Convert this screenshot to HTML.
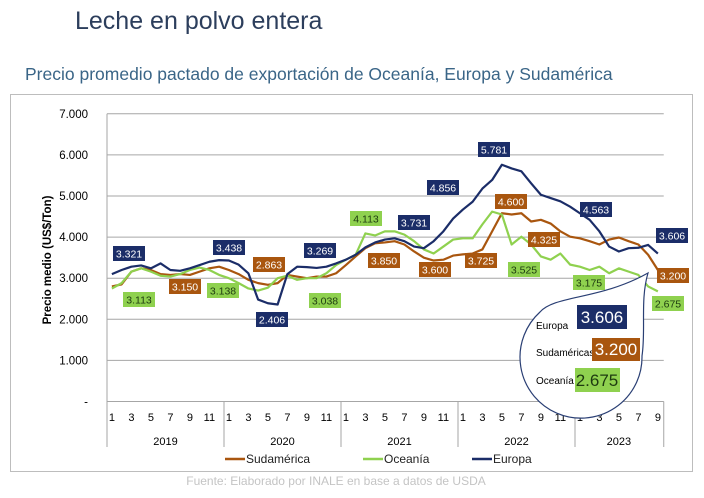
<!DOCTYPE html>
<html><head><meta charset="utf-8">
<style>
body{margin:0;background:#fff;width:704px;height:493px;overflow:hidden;font-family:"Liberation Sans",sans-serif;}
</style></head>
<body>
<svg id="chart" width="704" height="493" xmlns="http://www.w3.org/2000/svg" font-family="Liberation Sans, sans-serif">
<text x="75" y="29" font-size="25" fill="#2c3e5c">Leche en polvo entera</text>
<text x="25" y="80" font-size="17.5" fill="#3a6587">Precio promedio pactado de exportación de Oceanía, Europa y Sudamérica</text>
<rect x="10.5" y="94.5" width="682" height="377" fill="none" stroke="#bdbdbd"/>
<g id="grid"></g><g id="axes"></g><g id="series"></g><g id="labels"></g>
<text transform="translate(51,260) rotate(-90)" text-anchor="middle" font-size="11.5" font-weight="bold" fill="#000">Precio medio (US$/Ton)</text>
<g font-size="12" fill="#222">
 <line x1="225" y1="459" x2="245" y2="459" stroke="#a9560f" stroke-width="2.5"/><text x="246" y="463">Sudamérica</text>
 <line x1="363" y1="459" x2="383" y2="459" stroke="#8fd14f" stroke-width="2.5"/><text x="384" y="463">Oceanía</text>
 <line x1="472" y1="459" x2="492" y2="459" stroke="#1b2d68" stroke-width="2.5"/><text x="493" y="463">Europa</text>
</g>
<text x="336" y="485" text-anchor="middle" font-size="12" fill="#c4c4c4">Fuente: Elaborado por INALE en base a datos de USDA</text>
<g>
 <path d="M648,273 C640,300 646,330 642,356 A61,61 0 1 1 540,312 C555,295 600,300 648,273 Z" fill="#fff" stroke="#2a3f74" stroke-width="1.2"/>
 <text x="536" y="329" font-size="10" fill="#000">Europa</text>
 <rect x="577" y="305" width="50" height="24" fill="#1b2d68"/><text x="602" y="323" text-anchor="middle" font-size="17" fill="#fff">3.606</text>
 <text x="536" y="356" font-size="10" fill="#000">Sudaméricas</text>
 <rect x="592" y="338" width="48" height="23" fill="#a9560f"/><text x="616" y="355" text-anchor="middle" font-size="17" fill="#fff">3.200</text>
 <text x="536" y="384" font-size="10" fill="#000">Oceanía</text>
 <rect x="575" y="368" width="45" height="24" fill="#8fd14f"/><text x="597" y="386" text-anchor="middle" font-size="17" fill="#1d3a10">2.675</text>
</g>
</svg>
<script>
const yTicks=[0,1000,2000,3000,4000,5000,6000,7000];
const yTickLabels=["-","1.000","2.000","3.000","4.000","5.000","6.000","7.000"];
const years=["2019","2020","2021","2022","2023"];
const monthsPerYear=[12,12,12,12,9];
const europa=[3100,3200,3280,3310,3240,3360,3200,3180,3240,3320,3400,3440,3430,3330,3120,2480,2390,2360,3100,3280,3270,3250,3280,3360,3450,3570,3750,3870,3940,3970,3900,3770,3730,3900,4140,4450,4670,4860,5180,5390,5760,5670,5600,5310,5030,4950,4870,4740,4580,4420,4140,3770,3650,3730,3740,3810,3600];
const sudamerica=[2800,2850,3160,3240,3200,3100,3080,3100,3080,3160,3240,3280,3200,3100,2960,2880,2840,2880,3080,3040,3000,3040,3040,3120,3320,3530,3730,3850,3870,3900,3820,3650,3500,3430,3450,3550,3580,3600,3700,4140,4580,4550,4580,4380,4420,4330,4140,4010,3970,3900,3820,3940,3990,3900,3820,3570,3200];
const oceania=[2750,2880,3160,3240,3160,3060,3040,3100,3200,3260,3200,3080,3000,2880,2750,2700,2770,3000,3060,2960,3000,3000,3120,3320,3450,3570,4090,4040,4140,4140,4060,3900,3700,3600,3770,3940,3970,3970,4310,4620,4550,3820,4010,3820,3530,3450,3600,3330,3280,3200,3280,3120,3240,3160,3080,2800,2680];
const NS="http://www.w3.org/2000/svg";
const X0=107,STEP=9.75,Y0=401.5,YS=0.0411;
const xm=m=>X0+(m+0.5)*STEP;
const yv=v=>Y0-v*YS;
function mk(tag,attrs,parent,txt){const e=document.createElementNS(NS,tag);for(const k in attrs)e.setAttribute(k,attrs[k]);if(txt!==undefined)e.textContent=txt;parent.appendChild(e);return e;}
const grid=document.getElementById('grid'),axes=document.getElementById('axes');
const total=monthsPerYear.reduce((a,b)=>a+b,0);
const XR=X0+total*STEP+1;
yTicks.forEach((t,i)=>{
 if(t>0){const l=mk('line',{x1:X0,x2:XR,y1:yv(t),y2:yv(t),stroke:'#a6a6a6','stroke-width':1},grid);
 
 }
 const tx=mk('text',{x:88,y:yv(t)+4,'text-anchor':'end','font-size':11.5,fill:'#000'},axes,yTickLabels[i]);
 
 
});
const ya=mk('line',{x1:X0,x2:X0,y1:yv(7000),y2:Y0,stroke:'#a6a6a6'},axes);


const xa=mk('line',{x1:X0,x2:XR,y1:Y0,y2:Y0,stroke:'#a6a6a6'},axes);


let m=0;
years.forEach((yr,i)=>{
 const xs=X0+m*STEP;
 const sep=mk('line',{x1:xs,x2:xs,y1:Y0,y2:447,stroke:'#a6a6a6'},axes);
 
 
 for(let k=0;k<monthsPerYear[i];k+=2){
  const t=mk('text',{x:xm(m+k),y:421,'text-anchor':'middle','font-size':11,fill:'#000'},axes,String(k+1));
  
  
 }
 const yl=mk('text',{x:xs+monthsPerYear[i]*STEP/2,y:445,'text-anchor':'middle','font-size':11,fill:'#000'},axes,yr);
 
 
 m+=monthsPerYear[i];
});
const endSep=mk('line',{x1:XR,x2:XR,y1:Y0,y2:447,stroke:'#a6a6a6'},axes);


const ser=document.getElementById('series');
[[sudamerica,'#a9560f','series-sudamerica'],[oceania,'#8fd14f','series-oceania'],[europa,'#1b2d68','series-europa']].forEach(([d,c,n])=>{
 const p=mk('polyline',{points:d.map((v,i)=>xm(i)+','+yv(v)).join(' '),fill:'none',stroke:c,'stroke-width':2.2,'stroke-linejoin':'round'},ser);
 
 
});
const labs=document.getElementById('labels');
const boxes=[
 ['3.321',113,246,'#1b2d68','#fff'],['3.438',213,240,'#1b2d68','#fff'],['2.406',256,312,'#1b2d68','#fff'],['3.269',304,243,'#1b2d68','#fff'],
 ['3.731',398,215,'#1b2d68','#fff'],['4.856',427,180,'#1b2d68','#fff'],['5.781',478,142,'#1b2d68','#fff'],['4.563',580,202,'#1b2d68','#fff'],['3.606',656,228,'#1b2d68','#fff'],
 ['3.150',169,279,'#a9560f','#fff'],['2.863',253,257,'#a9560f','#fff'],['3.850',368,253,'#a9560f','#fff'],['3.600',419,262,'#a9560f','#fff'],
 ['3.725',465,253,'#a9560f','#fff'],['4.600',495,194,'#a9560f','#fff'],['4.325',528,232,'#a9560f','#fff'],['3.200',657,268,'#a9560f','#fff'],
 ['3.113',123,292,'#8fd14f','#1d3a10'],['3.138',207,283,'#8fd14f','#1d3a10'],['3.038',309,293,'#8fd14f','#1d3a10'],['4.113',350,211,'#8fd14f','#1d3a10'],
 ['3.525',508,262,'#8fd14f','#1d3a10'],['3.175',573,275,'#8fd14f','#1d3a10'],['2.675',652,296,'#8fd14f','#1d3a10']
];
boxes.forEach(([t,x,y,bg,fg])=>{
 const g=mk('g',{},labs);
 
 
 mk('rect',{x:x,y:y,width:32,height:15,fill:bg},g);
 mk('text',{x:x+16,y:y+11.5,'text-anchor':'middle','font-size':10.5,fill:fg},g,t);
});
</script>
</body></html>
